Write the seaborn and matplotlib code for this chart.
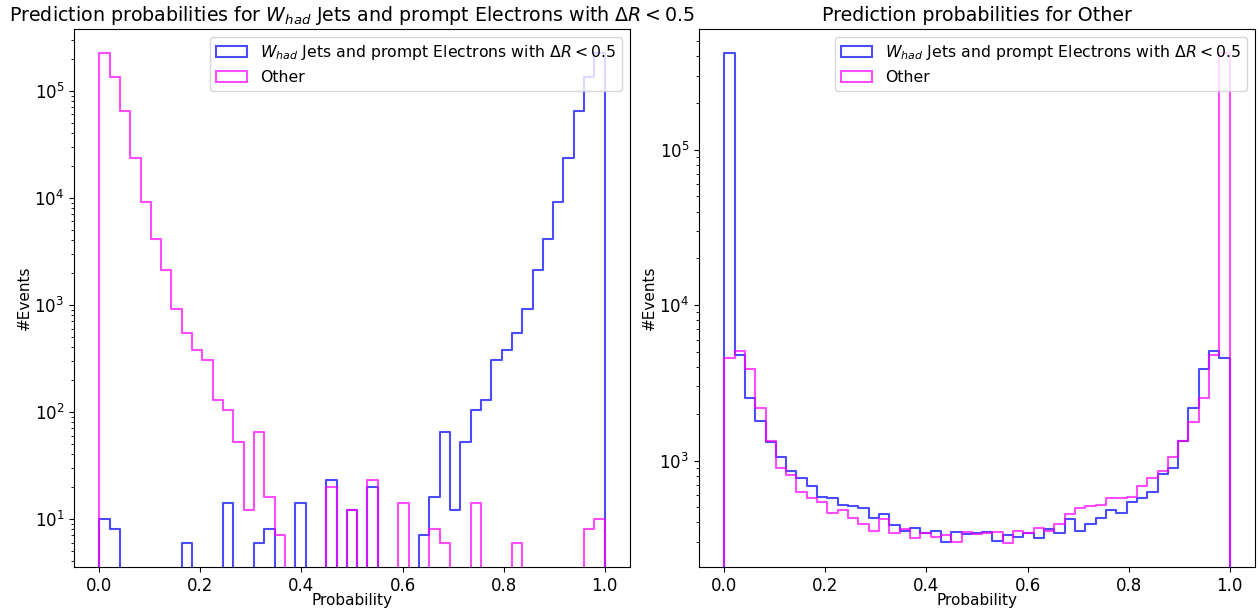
import numpy as np
import pandas as pd
import matplotlib
matplotlib.use("Agg")
import matplotlib.pyplot as plt
from matplotlib.patches import Patch
import seaborn as sns

# ---------------- data (49 bins between 0 and 1) ----------------
n_bins = 49
label_w = r"$W_{had}$ Jets and prompt Electrons with $\Delta R < 0.5$"
label_o = "Other"
titles = [r"Prediction probabilities for $W_{had}$ Jets and prompt Electrons with $\Delta R < 0.5$",
          "Prediction probabilities for Other"]

# Left panel: probability for W_had class
w_left = [10, 8, 0, 0, 0, 0, 0, 0, 6, 0, 0, 0, 14, 0, 0, 6, 8, 0, 0, 14,
          0, 0, 23, 0, 12, 0, 20, 0, 0, 0, 0, 7, 16, 65, 12, 52, 103, 130, 303, 378,
          541, 915, 2100, 4100, 9200, 23700, 64000, 133000, 223000]
o_left = [223000, 133000, 64000, 23700, 9200, 4100, 2100, 915, 541, 378, 303, 130, 103, 52, 12, 65, 16, 7, 0, 0,
          0, 0, 20, 0, 12, 0, 23, 0, 0, 14, 0, 0, 8, 6, 0, 0, 14, 0, 0, 0,
          6, 0, 0, 0, 0, 0, 0, 8, 10]

# Right panel: probability for Other class
w_right = [416000, 4770, 2530, 1790, 1320, 1050, 859, 775, 686, 582, 571, 521, 511, 495, 425, 454, 388, 351, 368, 341,
           351, 299, 347, 338, 340, 347, 302, 333, 321, 343, 318, 365, 343, 419, 350, 392, 425, 483, 463, 543,
           571, 630, 824, 899, 1340, 2170, 3900, 5080, 4600]
o_right = [4600, 5080, 3900, 2170, 1340, 899, 803, 630, 571, 543, 458, 480, 425, 390, 350, 419, 343, 365, 316, 341,
           321, 333, 301, 345, 336, 343, 347, 297, 351, 343, 368, 355, 390, 454, 495, 513, 521, 571, 577, 586,
           686, 775, 859, 1050, 1340, 1770, 2530, 4770, 416000]

# ---------------- styling ----------------
c_w = "blue"
c_o = "magenta"
alpha = 0.7
lw = 1.5

fig = plt.figure(figsize=(12.6, 6.12), dpi=100)
ax_l = fig.add_axes([74 / 1260, 1 - 567 / 612, 556 / 1260, 538 / 612])
ax_r = fig.add_axes([699 / 1260, 1 - 567 / 612, 556 / 1260, 538 / 612])

edges = np.linspace(0, 1, n_bins + 1)
width = edges[1] - edges[0]
centers = 0.5 * (edges[:-1] + edges[1:])
# pad with one empty bin on each side so the step outline drops to the axis
pad_centers = np.concatenate([[centers[0] - width], centers, [centers[-1] + width]])


def draw(ax, counts, color):
    df = pd.DataFrame({
        "prob": pad_centers,
        "count": np.concatenate([[0.0], np.asarray(counts, float), [0.0]]),
    })
    sns.histplot(data=df, x="prob", weights="count", bins=n_bins + 2,
                 binrange=(-width, 1 + width), element="step",
                 fill=False, color=color, alpha=alpha, linewidth=lw, ax=ax)


def log_limits(*series):
    vals = np.concatenate([np.asarray(s, float) for s in series])
    vals = vals[vals > 0]
    lo, hi = np.log10(vals.min()), np.log10(vals.max())
    m = 0.05 * (hi - lo)
    return 10 ** (lo - m), 10 ** (hi + m)


panels = [(ax_l, w_left, o_left), (ax_r, w_right, o_right)]

for i, (ax, wc, oc) in enumerate(panels):
    draw(ax, wc, c_w)
    draw(ax, oc, c_o)
    ax.set_yscale("log")
    ax.set_xlim(-0.05, 1.05)
    ax.set_ylim(*log_limits(wc, oc))
    ax.set_xlabel("Probability", fontsize=11, labelpad=-1.5)
    ax.set_ylabel("#Events", fontsize=11, labelpad=2)
    ax.set_title(titles[i], fontsize=13.7)
    ax.tick_params(labelsize=12)
    handles = [Patch(facecolor="none", edgecolor=c_w, alpha=alpha, linewidth=lw),
               Patch(facecolor="none", edgecolor=c_o, alpha=alpha, linewidth=lw)]
    ax.legend(handles, [label_w, label_o], loc="upper right", fontsize=11.3)

fig.savefig("out.png", dpi=100)
